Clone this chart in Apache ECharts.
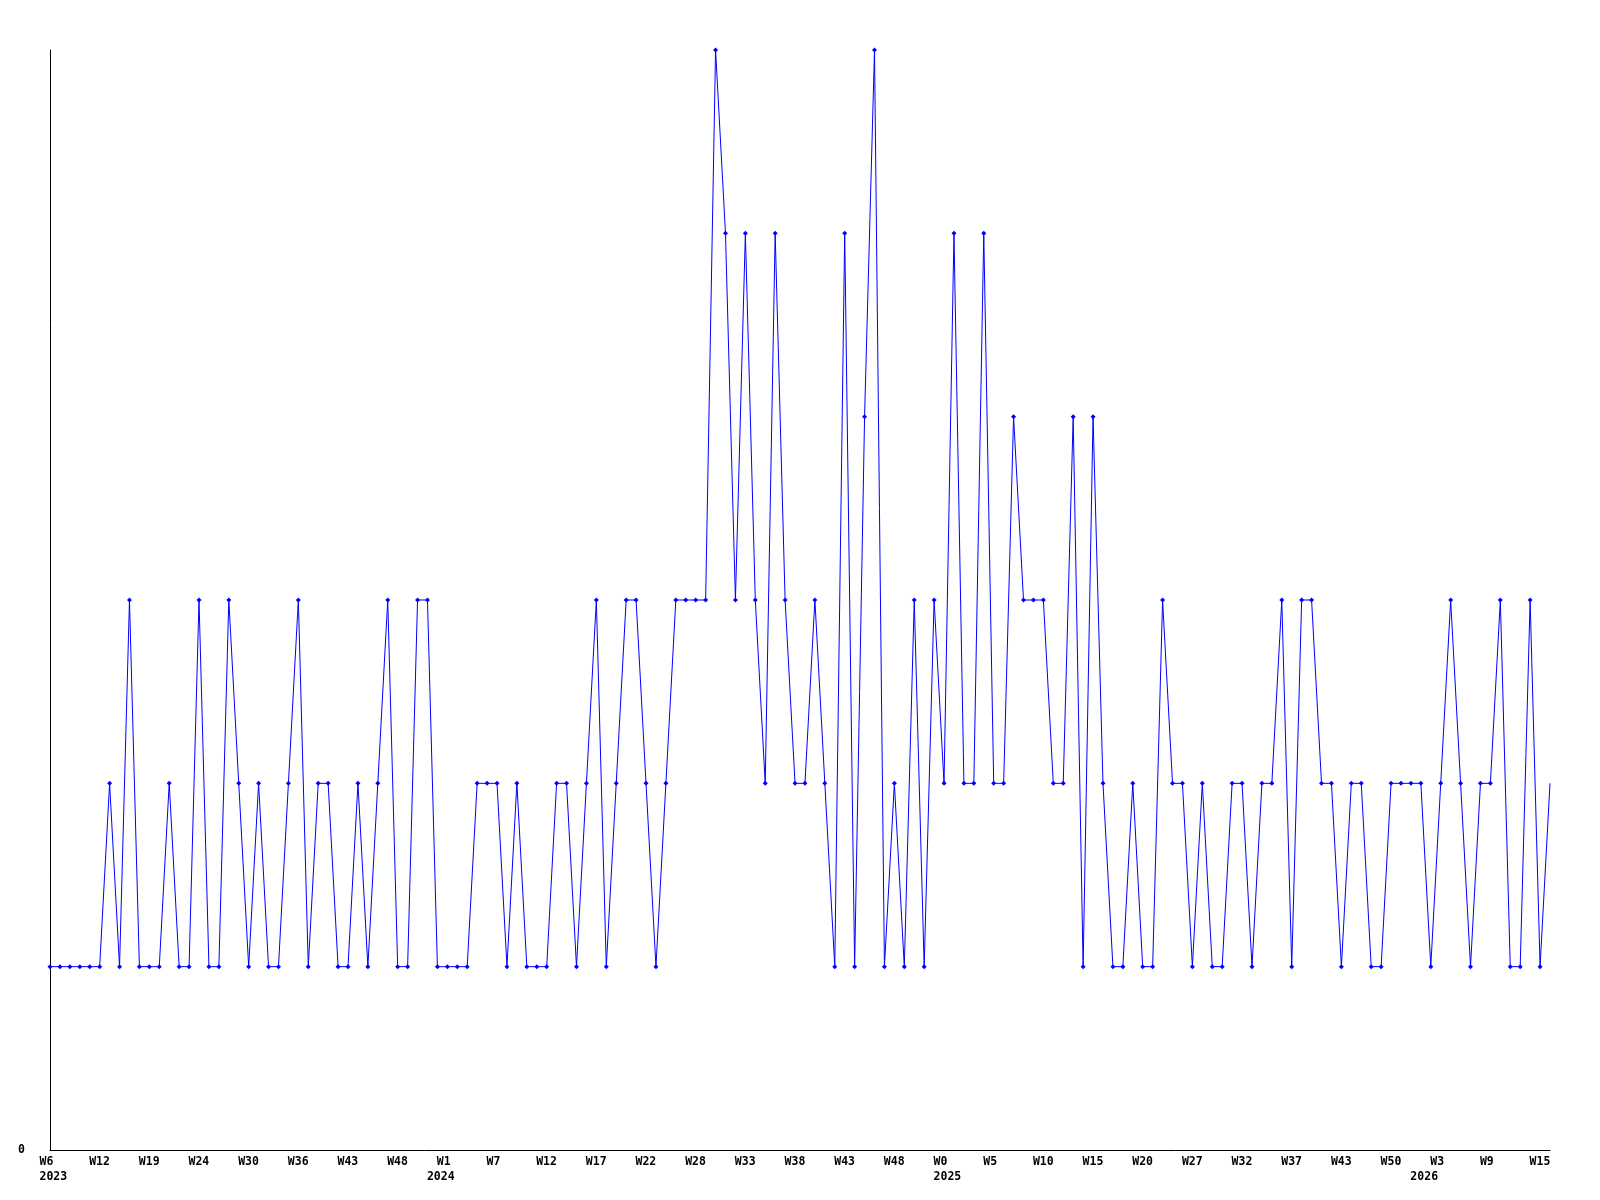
<!DOCTYPE html>
<html>
<head>
<meta charset="utf-8">
<script src="https://cdn.jsdelivr.net/npm/echarts@6/dist/echarts.min.js"></script>
<style>
html,body{margin:0;padding:0;background:#fff;}
#chart{width:1600px;height:1200px;}
</style>
</head>
<body>
<div id="chart"></div>
<script>
// Weekly values, one per point (W6 2023 .. W15 2026)
const values = [
  1,1,1,1,1,1,2,1,3,1,
  1,1,2,1,1,3,1,1,3,2,
  1,2,1,1,2,3,1,2,2,1,
  1,2,1,2,3,1,1,3,3,1,
  1,1,1,2,2,2,1,2,1,1,
  1,2,2,1,2,3,1,2,3,3,
  2,1,2,3,3,3,3,6,5,3,
  5,3,2,5,3,2,2,3,2,1,
  5,1,4,6,1,2,1,3,1,3,
  2,5,2,2,5,2,2,4,3,3,
  3,2,2,4,1,4,2,1,1,2,
  1,1,3,2,2,1,2,1,1,2,
  2,1,2,2,3,1,3,3,2,2,
  1,2,2,1,1,2,2,2,2,1,
  2,3,2,1,2,2,3,1,1,3,
  1,2
];
// Week tick labels, one every 5 points
const weekLabels = ["W6","W12","W19","W24","W30","W36","W43","W48","W1","W7","W12","W17","W22","W28","W33","W38","W43","W48","W0","W5","W10","W15","W20","W27","W32","W37","W43","W50","W3","W9","W15"];
// Year labels and the point index where each one is written
const yearLabels = ["2023","2024","2025","2026"];
const yearIndex = [0, 39, 90, 138];
const yTickLabels = ["0"];

const xData = values.map((_, i) => i);
const TICK_STEP = 5;
const FONT = 'DejaVu Sans Mono';

const labelBase = {
  fontFamily: FONT,
  fontWeight: 'bold',
  fontSize: 11.5,
  color: '#000',
  align: 'center',
  rich: {
    a: {fontFamily: FONT, fontWeight: 'bold', fontSize: 11.5, color: '#000', width: 21, align: 'left'}
  }
};

const chart = echarts.init(document.getElementById('chart'), null, {renderer: 'canvas'});
chart.setOption({
  animation: false,
  backgroundColor: '#ffffff',
  grid: {left: 50, right: 50, top: 50, bottom: 50, containLabel: false},
  xAxis: [{
    type: 'category',
    data: xData,
    boundaryGap: false,
    axisLine: {show: true, lineStyle: {color: '#000', width: 1}},
    axisTick: {show: false},
    splitLine: {show: false},
    axisLabel: Object.assign({}, labelBase, {
      interval: TICK_STEP - 1,
      margin: 6,
      formatter: function (v, idx) {
        const w = weekLabels[Math.round(idx / TICK_STEP)] || '';
        return '{a|' + w + '}';
      }
    })
  }, {
    type: 'category',
    data: xData,
    boundaryGap: false,
    position: 'bottom',
    axisLine: {show: false},
    axisTick: {show: false},
    splitLine: {show: false},
    axisLabel: Object.assign({}, labelBase, {
      interval: function (idx) { return yearIndex.indexOf(idx) >= 0; },
      margin: 21,
      formatter: function (v, idx) {
        const k = yearIndex.indexOf(Number(v));
        return k >= 0 ? '{a|' + yearLabels[k] + '}' : '';
      }
    })
  }],
  yAxis: {
    type: 'value',
    min: 0,
    max: 6,
    interval: 6,
    axisLine: {show: true, lineStyle: {color: '#000', width: 1}},
    axisTick: {show: false},
    splitLine: {show: false},
    axisLabel: {
      margin: 25,
      fontFamily: FONT,
      fontWeight: 'bold',
      fontSize: 11.5,
      color: '#000',
      formatter: function (v) { return v === 0 ? yTickLabels[0] : ''; }
    }
  },
  series: [{
    type: 'line',
    xAxisIndex: 0,
    data: values,
    symbol: function (v, p) { return p.dataIndex === values.length - 1 ? 'none' : 'diamond'; },
    symbolSize: 5,
    showAllSymbol: true,
    clip: false,
    lineStyle: {color: '#0000ff', width: 1},
    itemStyle: {color: '#0000ff'}
  }]
});
</script>
</body>
</html>
